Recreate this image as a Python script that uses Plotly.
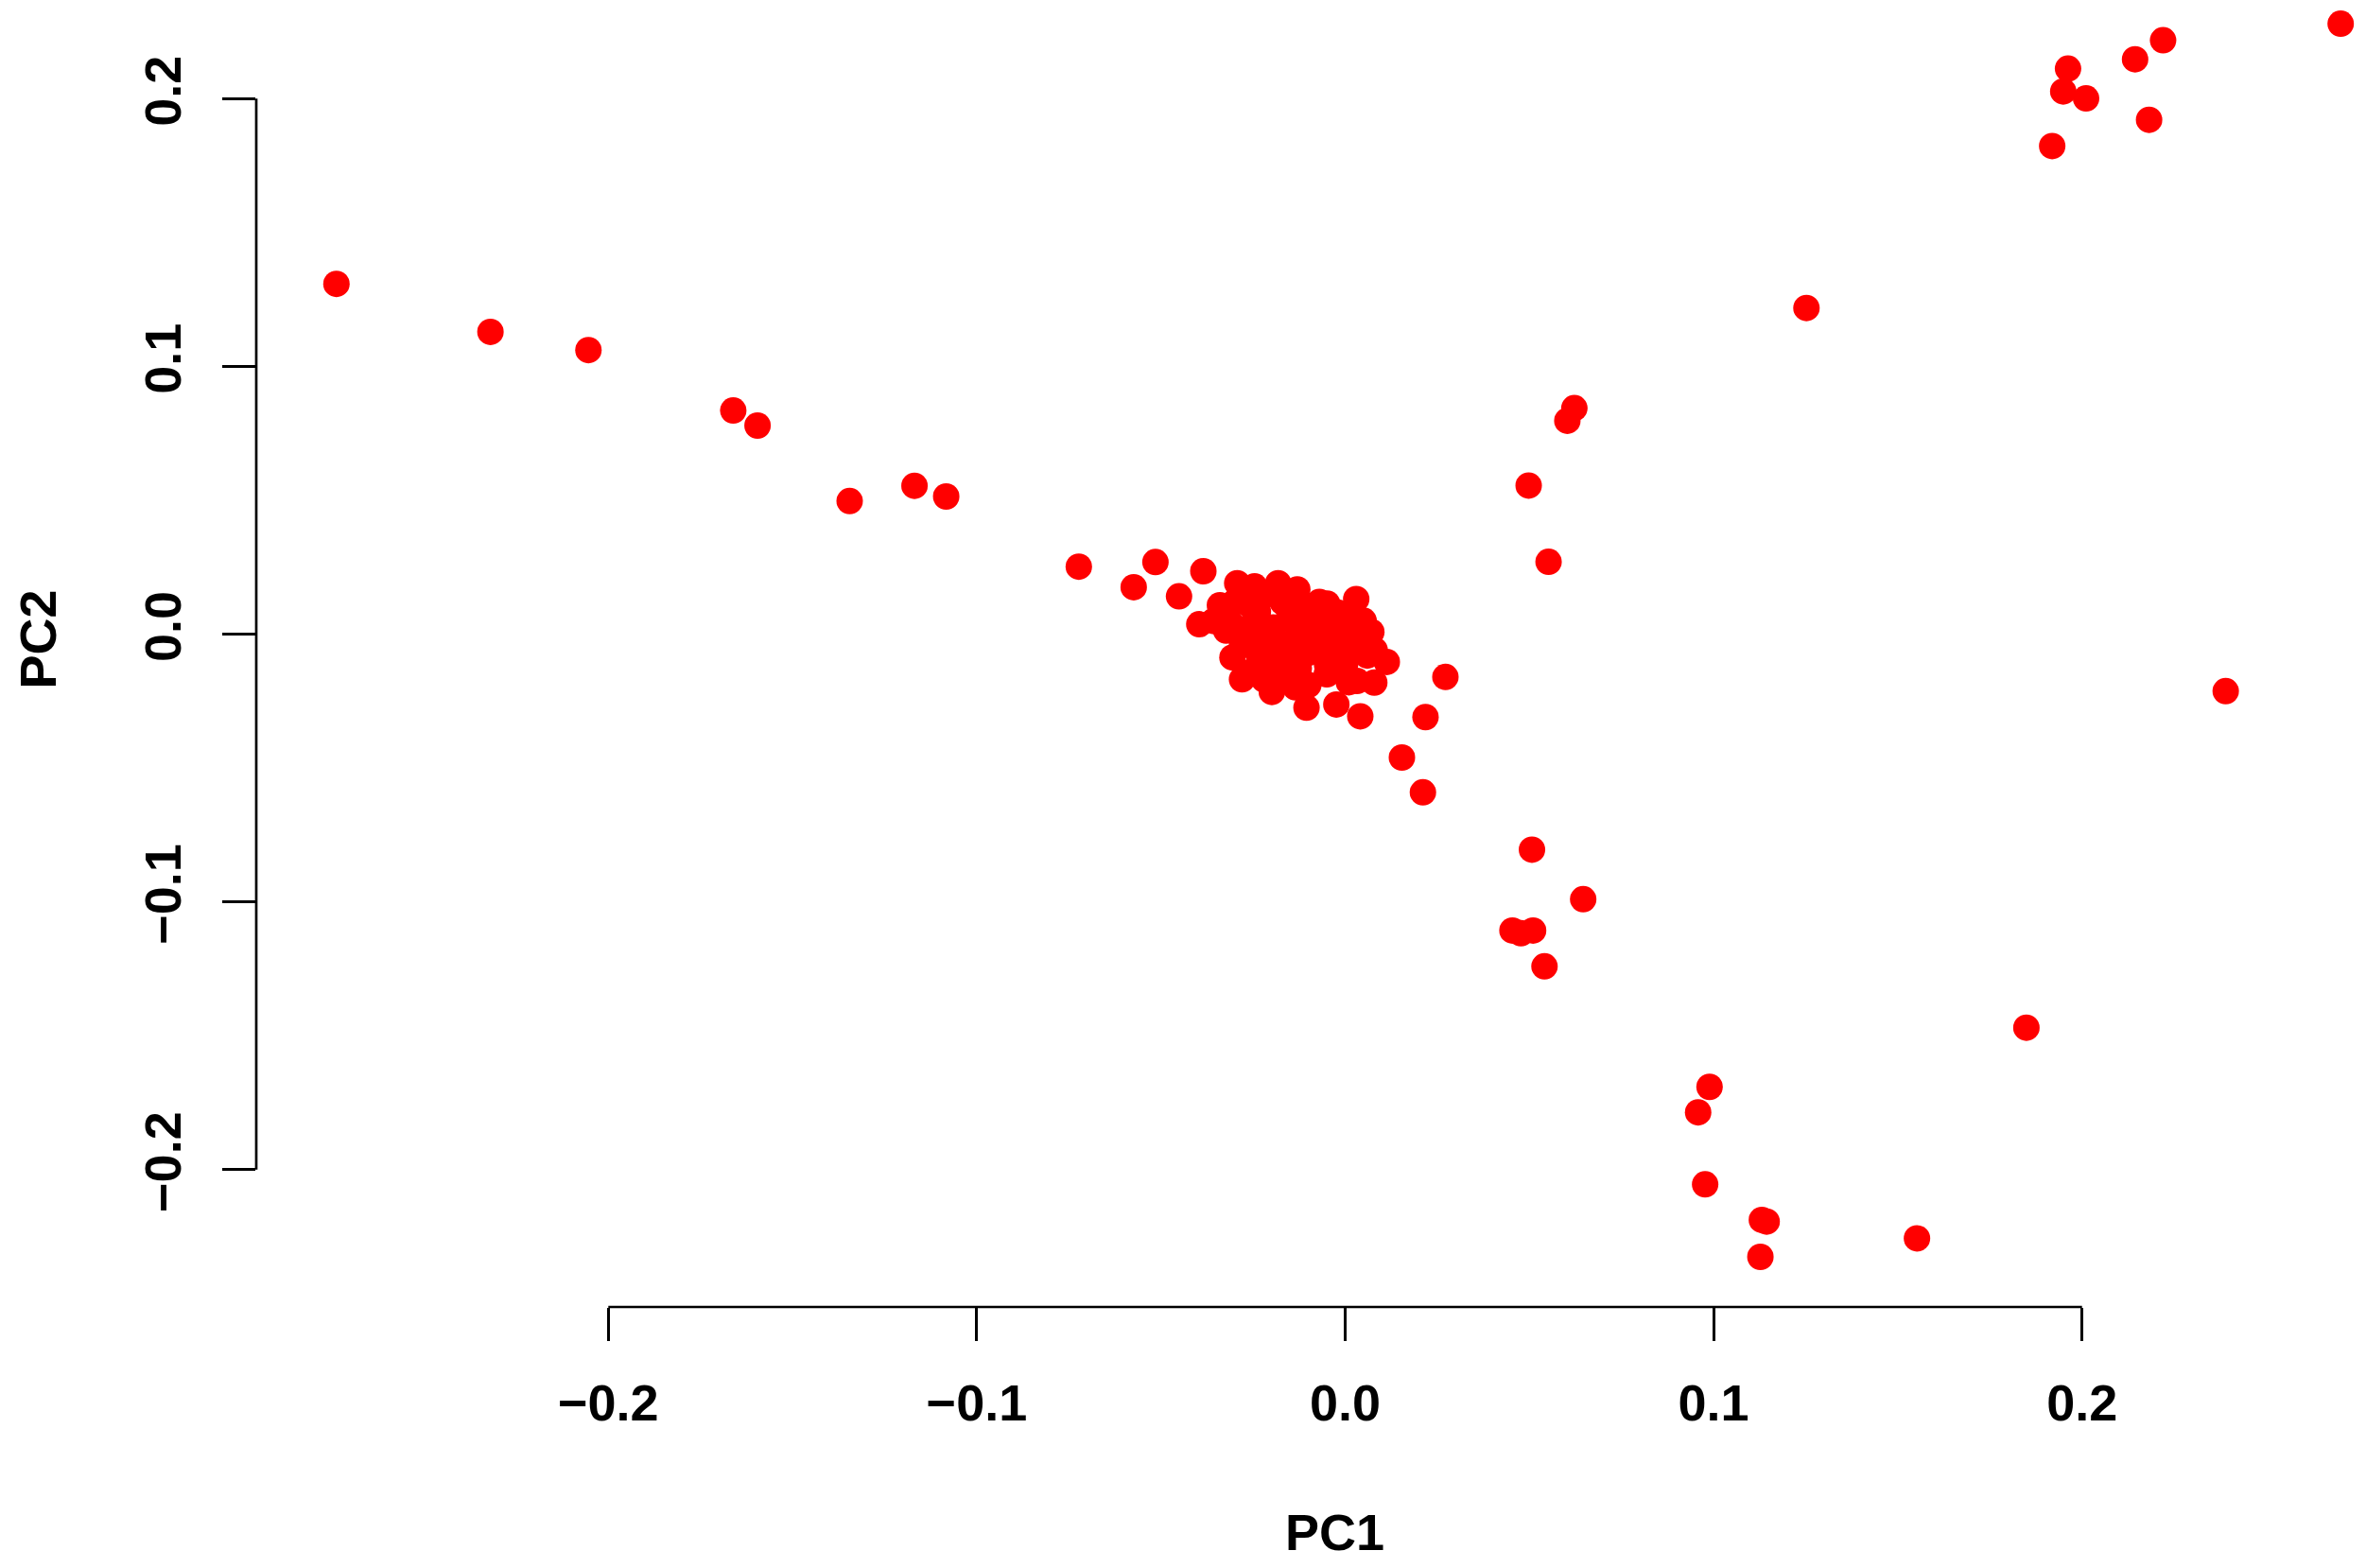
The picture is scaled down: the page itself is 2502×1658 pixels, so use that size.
import plotly.graph_objects as go

# PC scores
pc1 = [
    -0.2738, -0.2320, -0.2054, -0.1661, -0.1595, -0.1345, -0.1169, -0.1083,
    -0.0723, -0.0574, -0.0515,
    # dense central cluster
    -0.0385, -0.0451, -0.0396, -0.0357, -0.0293, -0.0246, -0.0182, -0.0130,
    -0.0049, 0.0030, 0.0071, 0.0113, 0.0032, 0.0079, -0.0024, 0.0041,
    -0.0105, -0.0199, -0.0135, -0.0280, -0.0306, -0.0049,
    -0.0280, -0.0237, -0.0195, -0.0152, -0.0109, -0.0237, -0.0178, -0.0126,
    -0.0083, -0.0041, 0.0002, -0.0015, -0.0066, -0.0126, -0.0195, -0.0255,
    0.0036, -0.0323, -0.0340,
    -0.0260, -0.0170, -0.0090, -0.0020, -0.0220, -0.0150, -0.0060, 0.0000,
    -0.0100, -0.0330, -0.0300, 0.0060, -0.0220, -0.0160,
    -0.0280, -0.0210, -0.0150, -0.0070, -0.0310, -0.0250, -0.0130, -0.0010,
    0.0050, -0.0280, -0.0190, -0.0100, 0.0020, 0.0080, -0.0230, -0.0160,
    -0.0050, 0.0010,
    # tail towards lower right
    0.0272, 0.0218, 0.0154, 0.0211,
    0.0507, 0.0646, 0.0454, 0.0477, 0.0510, 0.0541,
    0.0989, 0.0958, 0.0977, 0.1131, 0.1144, 0.1127, 0.1552, 0.1849,
    # upper right branch
    0.0622, 0.0603, 0.0498, 0.0552, 0.1252,
    0.2702, 0.2220, 0.2144, 0.1962, 0.1949, 0.2011, 0.2182, 0.1919,
    0.2390,
]
pc2 = [
    0.1308, 0.1129, 0.1061, 0.0835, 0.0779, 0.0497, 0.0554, 0.0514,
    0.0252, 0.0175, 0.0269,
    0.0235, 0.0141, 0.0037, 0.0049, 0.0190, 0.0178, 0.0190, 0.0167,
    0.0114, 0.0131, 0.0008, -0.0104, -0.0175, -0.0181, -0.0263, -0.0307,
    -0.0275, -0.0216, -0.0199, -0.0169, -0.0087, -0.0116,
    -0.0010, 0.0084, 0.0025, 0.0084, 0.0061, -0.0069, -0.0057, -0.0034,
    0.0013, 0.0037, 0.0049, -0.0034, -0.0069, -0.0128, -0.0140, -0.0140,
    -0.0034, 0.0013, 0.0108,
    0.0110, 0.0120, 0.0100, 0.0080, -0.0020, -0.0090, -0.0030, -0.0110,
    -0.0190, 0.0060, 0.0120, -0.0080, -0.0170, -0.0040,
    0.0140, 0.0150, 0.0130, 0.0120, 0.0040, 0.0040, 0.0030, 0.0020,
    0.0050, -0.0040, -0.0060, -0.0070, -0.0050, -0.0060, -0.0120, -0.0160,
    -0.0150, -0.0180,
    -0.0160, -0.0310, -0.0461, -0.0591,
    -0.0805, -0.0990, -0.1107, -0.1117, -0.1107, -0.1241,
    -0.1691, -0.1786, -0.2055, -0.2188, -0.2194, -0.2326, -0.2257, -0.1470,
    0.0844, 0.0797, 0.0555, 0.0270, 0.1218,
    0.2280, 0.2218, 0.2147, 0.2112, 0.2027, 0.2001, 0.1921, 0.1823,
    -0.0213,
]

tick_vals = [-0.2, -0.1, 0.0, 0.1, 0.2]
tick_text = ["\u22120.2", "\u22120.1", "0.0", "0.1", "0.2"]

font = dict(family="Liberation Sans, Arial, sans-serif", size=54, color="black")

fig = go.Figure()
fig.add_trace(go.Scatter(
    x=pc1, y=pc2, mode="markers",
    marker=dict(size=28, color="#ff0000", line=dict(width=0)),
    cliponaxis=False, showlegend=False,
))

axis_common = dict(
    showgrid=False, zeroline=False, showline=False,
    ticks="outside", ticklen=35, tickwidth=2.5, tickcolor="black",
    tickvals=tick_vals, ticktext=tick_text,
    tickfont=dict(family=font["family"], size=54, color="black", weight="bold"),
)

# the page body adds an 8px offset, so the plot area is placed to compensate
fig.update_layout(
    width=2502, height=1658,
    margin=dict(l=263, r=0, t=0, b=284),
    plot_bgcolor="white", paper_bgcolor="white",
    xaxis=dict(range=[-0.29556, 0.27913], ticklabelstandoff=19, **axis_common),
    yaxis=dict(range=[-0.25132, 0.23402], tickangle=-90, ticklabelstandoff=22,
               **axis_common),
    shapes=[
        dict(type="line", xref="x", yref="paper", x0=-0.2, x1=0.2, y0=0, y1=0,
             line=dict(color="black", width=2.7)),
        dict(type="line", xref="paper", yref="y", x0=0, x1=0, y0=-0.2, y1=0.2,
             line=dict(color="black", width=2.7)),
    ],
    annotations=[
        dict(text="<b>PC1</b>", xref="paper", yref="paper", x=0.5096, y=-0.1732,
             xanchor="center", yanchor="middle", showarrow=False, font=font),
        dict(text="<b>PC2</b>", xref="paper", yref="paper", x=-0.1030, y=0.5138,
             xanchor="center", yanchor="middle", textangle=-90, showarrow=False,
             borderpad=0, font=font),
    ],
)

fig.write_html("out.html")
